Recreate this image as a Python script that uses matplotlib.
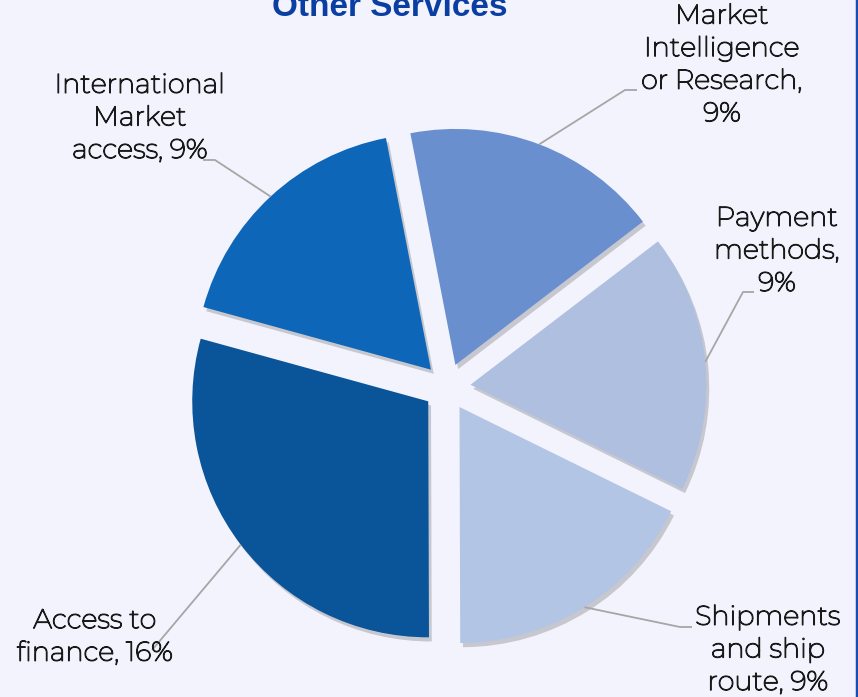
import matplotlib
matplotlib.use("Agg")
import matplotlib.pyplot as plt
import matplotlib.patheffects as pe
import numpy as np

categories = ["Market\nIntelligence\nor Research", "Payment\nmethods", "Shipments\nand ship\nroute",
              "Access to\nfinance", "International\nMarket\naccess"]
# estimated shares (labels show them rounded)
values = [9.4, 9.4, 9.4, 15.6, 9.4]
label_breaks = [True, True, False, False, False]  # percent on its own line?
colors = ["#6A8FCF", "#AEBFE0", "#B3C5E4", "#0A5499", "#0E66B9"]
title = "Other Services"

label_texts = [f"{c},{chr(10) if b else ' '}{round(v)}%" for c, v, b in zip(categories, values, label_breaks)]

W, H = 858, 697
CX, CY, R = 447, 387, 236  # pixel center / radius

def px(x, y):
    return ((x - CX) / R, (CY - y) / R)

fig = plt.figure(figsize=(W / 100, H / 100), dpi=100)
fig.patch.set_facecolor("#F3F3FD")
ax = fig.add_axes([0, 0, 1, 1])
ax.set_facecolor("#F3F3FD")

explode = [0.1] * len(values)
wedges, _ = ax.pie(values, colors=colors, startangle=101, counterclock=False,
                   explode=explode, radius=1.0, center=(0, 0),
                   wedgeprops=dict(linewidth=0))
for w in wedges:
    w.set_path_effects([pe.SimplePatchShadow(offset=(2, -3), shadow_rgbFace="#000000", alpha=0.18),
                        pe.Normal()])

ax.set_aspect("auto")
ax.set_xlim(-CX / R, (W - CX) / R)
ax.set_ylim(-(H - CY) / R, CY / R)
ax.axis("off")

# label layout (pixel positions): text center, elbow, end
label_pos = [(722, 65), (777, 251), (768, 650), (95, 637), (140, 118)]
elbows = [((625, 90), (637, 90)), ((743, 292), (754, 292)), ((680, 627), (692, 627)),
          ((158, 643), (152, 650)), ((215, 160), (203, 160))]

font = ["Montserrat", "Open Sans", "DejaVu Sans"]
txt_color = "#1A1A1A"
for w, txt, lp, (el, en), ex in zip(wedges, label_texts, label_pos, elbows, explode):
    mid = np.deg2rad((w.theta1 + w.theta2) / 2)
    sx = (1 + ex) * np.cos(mid)
    sy = (1 + ex) * np.sin(mid)
    ex_, ey_ = px(*el)
    nx, ny = px(*en)
    ax.plot([sx, ex_, nx], [sy, ey_, ny], color="#A6A6A6", lw=1.3, zorder=5,
            solid_capstyle="butt")
    tx, ty = px(*lp)
    ax.text(tx, ty, txt, ha="center", va="center", multialignment="center",
            fontsize=19.5, family=font, color=txt_color,
            linespacing=1.38, zorder=6,
            path_effects=[pe.withStroke(linewidth=0.9, foreground=txt_color)])

tx, ty = px(390, 16)
ax.text(tx, ty, title, ha="center", va="baseline", fontsize=24, fontweight="bold",
        family=["Liberation Sans", "DejaVu Sans"], color="#0B3EA3")

# right border
fig.add_artist(plt.Line2D([1 - 1.5 / W, 1 - 1.5 / W], [0, 1], transform=fig.transFigure,
                          color="#1B4BB0", lw=2.5))

fig.savefig("out.png", dpi=100, facecolor=fig.get_facecolor())
